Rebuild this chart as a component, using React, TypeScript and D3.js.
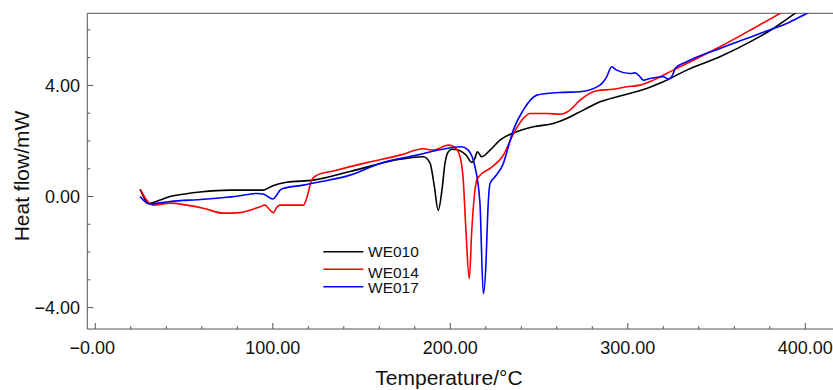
import React from "react";
import * as d3 from "d3";

// ---- data (Temperature °C, Heat flow mW) ----
const we010T = [25.2, 30.4, 36.5, 42.1, 50.5, 59.0, 75.9, 94.5, 100.1, 107.8, 122.8, 143.5, 171.7, 184.8, 188.6, 190.9, 193.2, 195.3, 197.0, 198.9, 201.0, 205.5, 208.9, 212.1, 213.9, 215.2, 217.7, 222.4, 228.0, 237.4, 246.8, 258.0, 265.6, 274.9, 284.3, 295.6, 310.6, 320.0, 333.2, 351.9, 370.7, 382.0, 394.2, 400.0];
const we010H = [0.26, -0.25, -0.13, 0.0, 0.09, 0.16, 0.23, 0.23, 0.39, 0.51, 0.59, 0.9, 1.34, 1.43, 1.2, 0.41, -0.5, 0.23, 1.19, 1.61, 1.7, 1.65, 1.49, 1.23, 1.38, 1.61, 1.43, 1.67, 2.03, 2.33, 2.51, 2.63, 2.81, 3.11, 3.41, 3.62, 3.89, 4.13, 4.55, 5.03, 5.63, 6.05, 6.59, 6.85];

const we014T = [25.6, 30.4, 32.7, 42.1, 51.5, 60.8, 72.1, 81.5, 88.8, 92.8, 95.6, 98.4, 100.3, 102.4, 104.1, 117.2, 119.1, 121.9, 124.7, 134.1, 152.9, 171.7, 184.8, 190.4, 198.9, 202.6, 205.5, 207.3, 208.8, 210.7, 212.1, 213.5, 214.9, 216.7, 222.4, 229.9, 235.5, 241.1, 244.9, 254.3, 261.8, 267.4, 273.1, 282.5, 291.8, 299.4, 306.9, 314.4, 325.6, 333.2, 351.9, 370.7, 385.7, 392.0];
const we014H = [0.23, -0.24, -0.31, -0.24, -0.31, -0.42, -0.6, -0.58, -0.46, -0.37, -0.31, -0.49, -0.58, -0.38, -0.31, -0.31, -0.06, 0.59, 0.76, 0.92, 1.22, 1.49, 1.72, 1.67, 1.85, 1.77, 1.43, 0.59, -1.21, -2.96, -1.21, -0.01, 0.59, 0.76, 1.01, 1.49, 2.25, 2.81, 2.99, 2.99, 2.96, 3.11, 3.47, 3.81, 3.86, 3.95, 4.01, 4.19, 4.55, 4.79, 5.39, 6.05, 6.59, 6.82];

const we017T = [25.2, 30.4, 42.1, 60.8, 79.7, 90.9, 94.6, 97.5, 100.1, 102.2, 104.1, 105.9, 117.2, 126.6, 143.5, 160.4, 181.1, 198.0, 206.4, 210.1, 213.9, 216.7, 218.6, 220.1, 221.1, 222.4, 225.2, 229.9, 232.7, 235.5, 241.1, 248.7, 254.3, 263.7, 273.1, 284.3, 288.1, 290.9, 293.7, 301.2, 304.1, 306.9, 308.7, 312.5, 320.0, 322.8, 325.6, 326.6, 333.2, 351.9, 374.5, 389.5, 400.8, 406.0];
const we017H = [0.0, -0.27, -0.18, -0.1, 0.01, 0.11, 0.09, -0.02, -0.09, 0.05, 0.23, 0.29, 0.41, 0.53, 0.77, 1.19, 1.49, 1.73, 1.79, 1.67, 1.07, -0.24, -3.5, -2.4, -0.6, 0.47, 0.71, 1.19, 1.79, 2.39, 3.11, 3.65, 3.71, 3.75, 3.77, 4.01, 4.31, 4.67, 4.55, 4.43, 4.45, 4.31, 4.19, 4.25, 4.31, 4.23, 4.43, 4.61, 4.85, 5.33, 5.87, 6.23, 6.59, 6.75];

const seriesNames = ["WE010", "WE014", "WE017"];
const seriesColors = ["#000000", "#ff0000", "#0000ff"];
const seriesT = [we010T, we014T, we017T];
const seriesH = [we010H, we014H, we017H];

const xMajorTicks = [0, 100, 200, 300, 400];
const xTickLabels = ["\u22120.00", "100.00", "200.00", "300.00", "400.00"];
const yMajorTicks = [-4, 0, 4];
const yTickLabels = ["\u22124.00", "0.00", "4.00"];

const W = 833;
const H = 390;
const plotLeft = 87.3;
const plotTop = 13.3;
const plotBottom = 329;
const plotRight = 840;

export default function App() {
  const x = d3.scaleLinear().domain([0, 400]).range([95.3, 805.3]);
  const y = d3.scaleLinear().domain([-4, 4]).range([307.6, 85.4]);

  const line = d3
    .line<[number, number]>()
    .x((d) => x(d[0]))
    .y((d) => y(d[1]))
    .curve(d3.curveMonotoneX);

  const xMinor = d3.range(0, 420, 20).filter((v) => !xMajorTicks.includes(v));
  const yMinor = d3.range(-4, 7, 1).filter((v) => !yMajorTicks.includes(v));
  const axisColor = "#555";
  const font = "Liberation Sans, Arial, Helvetica, sans-serif";

  return (
    <div style={{ position: "absolute", left: 0, top: 0 }}>
      <svg width={W} height={H} style={{ display: "block", background: "#fff" }}>
        <defs>
          <clipPath id="plotclip">
            <rect x={plotLeft} y={plotTop} width={plotRight - plotLeft} height={plotBottom - plotTop} />
          </clipPath>
        </defs>
        {/* frame */}
        <line x1={plotLeft} x2={plotRight} y1={plotTop} y2={plotTop} stroke={axisColor} strokeWidth={1} />
        <line x1={plotLeft} x2={plotLeft} y1={plotTop} y2={plotBottom} stroke={axisColor} strokeWidth={1} />
        <line x1={plotLeft} x2={plotRight} y1={plotBottom} y2={plotBottom} stroke={axisColor} strokeWidth={1} />

        {/* x ticks */}
        {xMajorTicks.map((v) => (
          <line key={"xM" + v} x1={x(v)} x2={x(v)} y1={plotBottom} y2={plotBottom - 6} stroke={axisColor} />
        ))}
        {xMinor.map((v) => (
          <line key={"xm" + v} x1={x(v)} x2={x(v)} y1={plotBottom} y2={plotBottom - 3} stroke={axisColor} />
        ))}
        {xMajorTicks.map((v, i) => (
          <text key={"xl" + v} x={x(v) - (i === 0 ? 3 : 0)} y={354} textAnchor="middle" fontFamily={font} fontSize={18} fill="#111">
            {xTickLabels[i]}
          </text>
        ))}

        {/* y ticks */}
        {yMajorTicks.map((v) => (
          <line key={"yM" + v} x1={plotLeft} x2={plotLeft + 6} y1={y(v)} y2={y(v)} stroke={axisColor} />
        ))}
        {yMinor.map((v) => (
          <line key={"ym" + v} x1={plotLeft} x2={plotLeft + 3} y1={y(v)} y2={y(v)} stroke={axisColor} />
        ))}
        {yMajorTicks.map((v, i) => (
          <text key={"yl" + v} x={80} y={y(v)} dy="0.35em" textAnchor="end" fontFamily={font} fontSize={18} fill="#111">
            {yTickLabels[i]}
          </text>
        ))}

        {/* axis titles */}
        <text x={449} y={385} textAnchor="middle" fontFamily={font} fontSize={21} fill="#111">
          Temperature/°C
        </text>
        <text
          transform={`translate(29,176) rotate(-90)`}
          textAnchor="middle"
          fontFamily={font}
          fontSize={21}
          fill="#111"
        >
          Heat flow/mW
        </text>

        {/* curves */}
        <g clipPath="url(#plotclip)">
          {seriesT.map((ts, si) => {
            const pts: [number, number][] = ts.map((t, j) => [t, seriesH[si][j]]);
            return (
              <path key={seriesNames[si]} d={line(pts) || ""} fill="none" stroke={seriesColors[si]} strokeWidth={1.6} strokeLinejoin="round" />
            );
          })}
        </g>

        {/* legend */}
        {seriesNames.map((n, i) => {
          const ly = [251.7, 269.3, 286.7][i];
          const ty = [256.7, 277.5, 293][i];
          return (
            <g key={"lg" + n}>
              <line x1={323.3} x2={363.3} y1={ly} y2={ly} stroke={seriesColors[i]} strokeWidth={1.6} />
              <text x={368} y={ty} fontFamily={font} fontSize={15.5} fill="#111">
                {n}
              </text>
            </g>
          );
        })}
      </svg>
    </div>
  );
}
